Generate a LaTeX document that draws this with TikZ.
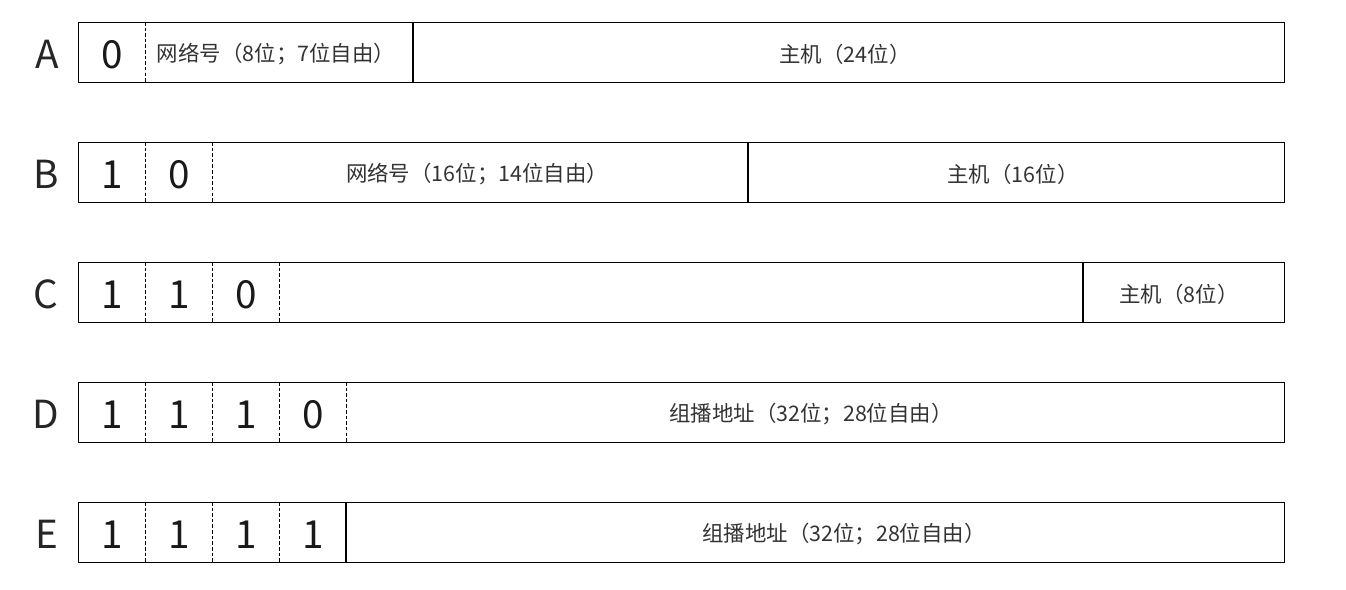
\documentclass[tikz,border=0pt]{standalone}
\usepackage{fontspec}
\setmainfont{Noto Sans CJK SC}
\usepackage{xcolor}
\usetikzlibrary{positioning}

\definecolor{txtgray}{HTML}{333333}

\tikzset{
  field/.style={draw,line width=0.6pt,minimum width=24.12cm,minimum height=1.2cm,inner sep=0pt,anchor=north west},
  classlabel/.style={font=\fontsize{22}{26}\selectfont,text=black!85,inner sep=0pt,yshift=-0.04cm},
  bitval/.style={font=\fontsize{22}{26}\selectfont,text=black!90,inner sep=0pt},
  parttext/.style={font=\fontsize{12.2}{14}\selectfont,text=txtgray,inner sep=0pt},
  bitsep/.style={line width=0.5pt,dash pattern=on 2pt off 1.2pt},
  partsep/.style={line width=0.6pt}
}

\begin{document}
\begin{tikzpicture}[x=0.02cm,y=-0.02cm]
  \useasboundingbox (0,0) rectangle (1346,589);

  % rows
  \node[field] (rowA) at (78,22) {};
  \node[field] (rowB) at (78,142) {};
  \node[field] (rowC) at (78,262) {};
  \node[field] (rowD) at (78,382) {};
  \node[field] (rowE) at (78,502) {};

  \node[classlabel,left=0.38cm of rowA] (labA) {A};
  \node[classlabel,left=0.38cm of rowB] (labB) {B};
  \node[classlabel,left=0.38cm of rowC] (labC) {C};
  \node[classlabel,left=0.38cm of rowD] (labD) {D};
  \node[classlabel,left=0.38cm of rowE] (labE) {E};

  % dashed bit separators
  \foreach \x in {145}{\draw[bitsep](\x,22)--(\x,82);}
  \foreach \x in {145,212}{\draw[bitsep](\x,142)--(\x,202);}
  \foreach \x in {145,212,279}{\draw[bitsep](\x,262)--(\x,322);}
  \foreach \x in {145,212,279,346}{\draw[bitsep](\x,382)--(\x,442);}
  \foreach \x in {145,212,279}{\draw[bitsep](\x,502)--(\x,562);}

  % solid field separators
  \draw[partsep](413,22)--(413,82);
  \draw[partsep](748,142)--(748,202);
  \draw[partsep](1083,262)--(1083,322);
  \draw[partsep](346,502)--(346,562);

  % class A
  \node[bitval] (a1) at (112,55) {0};
  \node[parttext] (anet) at (276,54) {网络号（8位；7位自由）};
  \node[parttext] (ahost) at (845,54) {主机（24位）};

  % class B
  \node[bitval] (b1) at (112,175) {1};
  \node[bitval] (b2) at (179,175) {0};
  \node[parttext] (bnet) at (477,174) {网络号（16位；14位自由）};
  \node[parttext] (bhost) at (1013,174) {主机（16位）};

  % class C
  \node[bitval] (c1) at (112,295) {1};
  \node[bitval] (c2) at (179,295) {1};
  \node[bitval] (c3) at (246,295) {0};
  \node[parttext] (chost) at (1179,294) {主机（8位）};

  % class D
  \node[bitval] (d1) at (112,415) {1};
  \node[bitval] (d2) at (179,415) {1};
  \node[bitval] (d3) at (246,415) {1};
  \node[bitval] (d4) at (313,415) {0};
  \node[parttext] (dgroup) at (811,414) {组播地址（32位；28位自由）};

  % class E
  \node[bitval] (e1) at (112,535) {1};
  \node[bitval] (e2) at (179,535) {1};
  \node[bitval] (e3) at (246,535) {1};
  \node[bitval] (e4) at (313,535) {1};
  \node[parttext] (egroup) at (844,534) {组播地址（32位；28位自由）};
\end{tikzpicture}
\end{document}
